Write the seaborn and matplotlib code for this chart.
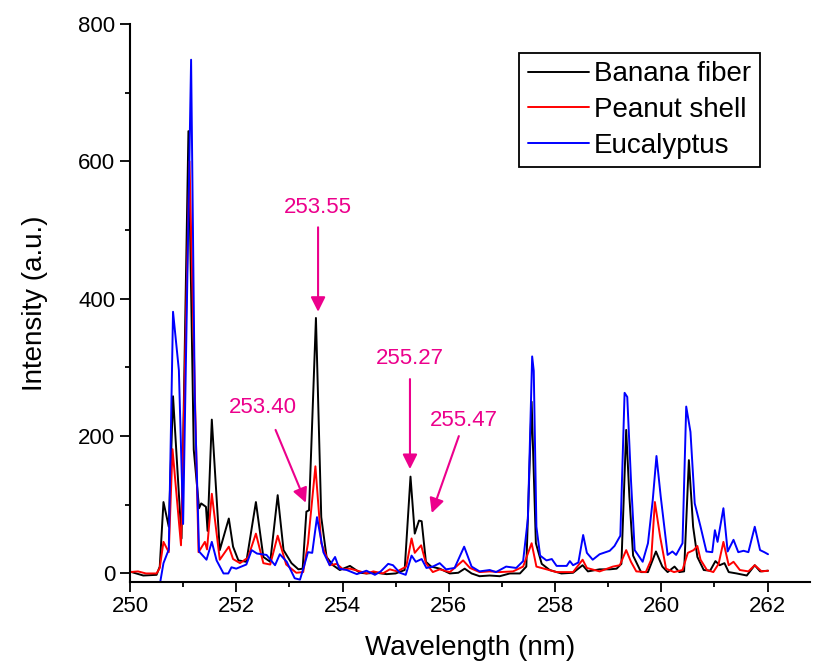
import pandas as pd
import matplotlib.pyplot as plt
import seaborn as sns
from matplotlib.ticker import MultipleLocator

# Spectra (wavelength in nm, intensity in a.u.)
wl_banana = [250.00, 250.03, 250.25, 250.50, 250.56, 250.63, 250.73, 250.81, 250.97, 251.10,
             251.20, 251.30, 251.34, 251.43, 251.46, 251.54, 251.69, 251.86, 251.94, 252.04,
             252.19, 252.37, 252.51, 252.64, 252.78, 252.89, 253.04, 253.17, 253.25, 253.32,
             253.37, 253.50, 253.60, 253.70, 253.82, 253.95, 254.14, 254.33, 254.45, 254.64,
             254.83, 255.00, 255.17, 255.28, 255.36, 255.44, 255.49, 255.57, 255.67, 255.83,
             256.02, 256.18, 256.30, 256.43, 256.58, 256.77, 256.96, 257.15, 257.34, 257.46,
             257.56, 257.64, 257.75, 257.90, 258.12, 258.34, 258.52, 258.62, 258.84, 259.03,
             259.16, 259.25, 259.34, 259.40, 259.47, 259.62, 259.75, 259.90, 260.02, 260.12,
             260.25, 260.34, 260.43, 260.52, 260.60, 260.68, 260.80, 260.92, 261.02, 261.10,
             261.19, 261.27, 261.42, 261.61, 261.76, 261.86, 262.01]
int_banana = [3, 2, -3, -2, 10, 104, 68, 258, 51, 644,
              180, 95, 102, 97, 62, 224, 34, 80, 39, 19,
              17, 104, 24, 17, 114, 34, 15, 6, 7, 90,
              92, 372, 82, 24, 12, 5, 11, 1, 0, 1,
              -1, 0, 5, 141, 58, 77, 76, 17, 10, 7,
              0, 1, 7, 0, -4, -3, -4, 0, 0, 10,
              250, 44, 14, 5, 0, 1, 12, 3, 6, 6,
              7, 14, 209, 112, 26, 2, 2, 32, 10, 2,
              10, 2, 3, 165, 68, 24, 5, 4, 18, 12,
              15, 2, 0, -3, 12, 3, 4]

wl_peanut = [250.00, 250.15, 250.30, 250.50, 250.56, 250.63, 250.73, 250.80, 250.96, 251.12,
             251.29, 251.41, 251.45, 251.54, 251.69, 251.86, 251.94, 252.07, 252.22, 252.37,
             252.51, 252.64, 252.78, 252.94, 253.13, 253.26, 253.35, 253.49, 253.60, 253.76,
             253.89, 254.01, 254.14, 254.33, 254.45, 254.58, 254.76, 254.89, 255.03, 255.20,
             255.30, 255.36, 255.48, 255.57, 255.70, 255.83, 256.02, 256.14, 256.27, 256.40,
             256.58, 256.77, 256.96, 257.21, 257.40, 257.56, 257.65, 257.84, 258.03, 258.34,
             258.52, 258.60, 258.84, 259.09, 259.22, 259.34, 259.43, 259.53, 259.71, 259.81,
             259.88, 259.98, 260.09, 260.24, 260.40, 260.50, 260.61, 260.68, 260.74, 260.86,
             260.98, 261.08, 261.17, 261.27, 261.36, 261.48, 261.64, 261.76, 261.89, 262.01]
int_peanut = [2, 3, 0, 0, 8, 46, 31, 181, 41, 600,
              31, 46, 35, 116, 20, 39, 21, 15, 23, 58,
              15, 13, 55, 13, 1, 2, 44, 156, 44, 12,
              14, 6, 7, 3, 0, 3, 0, 6, 3, 10,
              51, 30, 41, 15, 2, 6, 2, 10, 19, 8,
              2, 3, 2, 3, 10, 44, 10, 6, 2, 2,
              20, 8, 3, 10, 12, 34, 17, 3, 2, 20,
              104, 53, 7, 2, 5, 30, 34, 40, 20, 5,
              2, 14, 46, 12, 17, 5, 3, 12, 3, 4]

wl_euc = [250.35, 250.57, 250.63, 250.73, 250.81, 250.92, 251.00, 251.15, 251.22, 251.30,
          251.44, 251.54, 251.63, 251.76, 251.85, 251.91, 252.00, 252.19, 252.29, 252.39,
          252.57, 252.73, 252.82, 252.95, 253.10, 253.20, 253.27, 253.35, 253.43, 253.52,
          253.64, 253.76, 253.86, 253.94, 254.08, 254.27, 254.45, 254.61, 254.72, 254.86,
          254.95, 255.08, 255.19, 255.30, 255.38, 255.49, 255.58, 255.70, 255.83, 255.95,
          256.11, 256.29, 256.43, 256.58, 256.77, 256.89, 257.08, 257.27, 257.40, 257.49,
          257.57, 257.60, 257.65, 257.72, 257.84, 257.94, 258.03, 258.22, 258.28, 258.34,
          258.44, 258.53, 258.60, 258.71, 258.84, 259.03, 259.12, 259.23, 259.31, 259.36,
          259.43, 259.50, 259.65, 259.75, 259.84, 259.91, 259.99, 260.12, 260.21, 260.28,
          260.40, 260.47, 260.55, 260.63, 260.74, 260.85, 260.96, 261.01, 261.06, 261.17,
          261.25, 261.36, 261.45, 261.55, 261.64, 261.76, 261.86, 261.94, 262.01]
int_euc = [-25, -12, 15, 35, 381, 296, 72, 748, 250, 32,
           20, 46, 19, 0, 0, 9, 7, 13, 34, 29,
           27, 12, 28, 17, -7, -9, 9, 31, 30, 82,
           31, 12, 24, 7, 5, -1, 4, -2, 3, 14,
           12, 1, -2, 26, 17, 21, 8, 10, 15, 6,
           8, 39, 10, 3, 5, 2, 10, 8, 18, 80,
           316, 295, 68, 26, 19, 21, 11, 11, 18, 12,
           16, 56, 30, 20, 28, 33, 40, 55, 263, 257,
           136, 34, 17, 44, 107, 171, 112, 27, 32, 27,
           44, 243, 206, 102, 68, 32, 31, 63, 46, 95,
           32, 49, 31, 33, 31, 68, 34, 31, 28]

samples = ["Banana fiber", "Peanut shell", "Eucalyptus"]
colors = {"Banana fiber": "#000000", "Peanut shell": "#FF0000", "Eucalyptus": "#0000FF"}

# peak labels next to the arrows
peak_labels = ["253.55", "253.40", "255.27", "255.47"]
pink = "#EC008C"

sns.set_style("ticks")
plt.rcParams['font.family'] = ['Liberation Sans', 'DejaVu Sans']
plt.rcParams['text.color'] = 'black'
plt.rcParams['axes.labelcolor'] = 'black'

df = pd.concat([
    pd.DataFrame({"Wavelength": wl_banana, "Intensity": int_banana, "Sample": samples[0]}),
    pd.DataFrame({"Wavelength": wl_peanut, "Intensity": int_peanut, "Sample": samples[1]}),
    pd.DataFrame({"Wavelength": wl_euc, "Intensity": int_euc, "Sample": samples[2]}),
], ignore_index=True)

fig = plt.figure(figsize=(8.15, 6.69), dpi=100)
ax = fig.add_axes([130 / 815, 1 - 581.7 / 669, 680 / 815, 557.7 / 669])

sns.lineplot(data=df, x="Wavelength", y="Intensity", hue="Sample", hue_order=samples,
             palette=colors, sort=False, estimator=None, linewidth=1.4, ax=ax)

ax.set_xlim(250, 262.8)
ax.set_ylim(-12, 800)
ax.xaxis.set_major_locator(MultipleLocator(2))
ax.xaxis.set_minor_locator(MultipleLocator(1))
ax.yaxis.set_major_locator(MultipleLocator(200))
ax.yaxis.set_minor_locator(MultipleLocator(100))
ax.tick_params(which="major", direction="out", length=7, width=1.3, labelsize=16, colors="black")
ax.tick_params(which="minor", direction="out", length=3.5, width=1.3, colors="black")
sns.despine(ax=ax)
for s in ["left", "bottom"]:
    ax.spines[s].set_linewidth(1.5)
    ax.spines[s].set_color("black")

ax.set_xlabel("Wavelength (nm)", fontsize=20, labelpad=13, color="black")
ax.set_ylabel("Intensity (a.u.)", fontsize=20, labelpad=22, color="black")

leg = ax.legend(loc="upper right", bbox_to_anchor=(0.926, 0.948), frameon=True, fancybox=False,
                edgecolor="black", fontsize=20, handlelength=2.2, handletextpad=0.2,
                labelspacing=0.35, borderpad=0.3, borderaxespad=0)
leg.get_frame().set_linewidth(1.3)
leg.get_frame().set_alpha(1)
for h in leg.get_lines():
    h.set_linewidth(1.4)
for t in leg.get_texts():
    t.set_color("black")

arrow = dict(arrowstyle="-|>", color=pink, lw=1.5, mutation_scale=22, shrinkA=0, shrinkB=0)
ax.text(253.54, 533, peak_labels[0], color=pink, fontsize=16, ha="center", va="center")
ax.annotate("", xy=(253.54, 381), xytext=(253.54, 504), arrowprops=arrow)
ax.text(252.51, 242, peak_labels[1], color=pink, fontsize=16, ha="center", va="center")
ax.annotate("", xy=(253.31, 103), xytext=(252.74, 209), arrowprops=arrow)
ax.text(255.27, 313, peak_labels[2], color=pink, fontsize=16, ha="center", va="center")
ax.annotate("", xy=(255.27, 152), xytext=(255.27, 283), arrowprops=arrow)
ax.text(256.29, 223, peak_labels[3], color=pink, fontsize=16, ha="center", va="center")
ax.annotate("", xy=(255.68, 88), xytext=(256.19, 200), arrowprops=arrow)

fig.savefig("out.png", dpi=100)
